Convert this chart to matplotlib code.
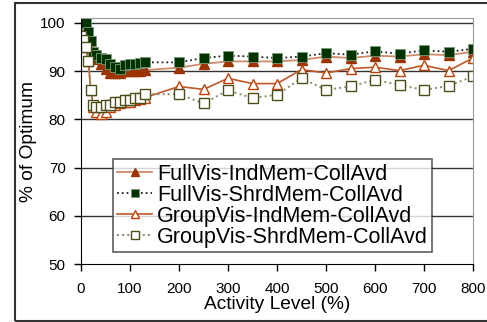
import numpy as np
import matplotlib
matplotlib.use('Agg')
from matplotlib import pyplot as plt
from matplotlib.patches import Rectangle

plt.rcParams['font.family'] = ['Liberation Sans', 'DejaVu Sans']

# activity level (%)
activity = [0, 5, 10, 15, 20, 25, 30, 40, 50, 60, 70, 80, 90, 100, 110, 120, 130,
            200, 250, 300, 350, 400, 450, 500, 550, 600, 650, 700, 750, 800]

full_ind = [100, 100, 99, 97, 95, 93, 92.5, 91.5, 90.5, 89.5, 89.5, 89.5, 90, 90, 90, 90, 90.2,
            90.7, 91.5, 92, 92, 92, 92.3, 93, 92.7, 93.2, 93, 93.5, 93.3, 94]
full_shrd = [100, 100, 100, 98, 96.3, 94, 93.4, 92.8, 92.4, 91.5, 90.8, 90.5, 91.3, 91.5, 91.5, 91.7, 91.8,
             91.8, 92.7, 93.2, 93.0, 92.7, 93.0, 93.7, 93.4, 94.1, 93.6, 94.3, 94.0, 94.6]
group_ind = [97, 96, 95, 92, 86, 82.6, 81.5, 81, 81.5, 82.5, 83, 83.3, 83.5, 83.5, 84, 84.2, 84.5,
             86.8, 86.2, 88.5, 87.4, 87.4, 90.3, 89.6, 90.5, 90.8, 90.1, 91.2, 90.1, 92.7]
group_shrd = [97.3, 96.5, 95, 92, 86, 83, 82.5, 82.5, 83, 83, 83.5, 83.5, 84, 84, 84.5, 84.5, 85.2,
              85.2, 83.3, 86.0, 84.4, 85.1, 88.5, 86.1, 86.8, 88.2, 87.1, 86.1, 86.9, 88.9]

labels = ['FullVis-IndMem-CollAvd', 'FullVis-ShrdMem-CollAvd',
          'GroupVis-IndMem-CollAvd', 'GroupVis-ShrdMem-CollAvd']

fig = plt.figure(figsize=(4.87, 3.22), dpi=100)
fig.patches.append(Rectangle((15/487, 1/322), 1.0, 318/322, transform=fig.transFigure,
                             fill=False, edgecolor='#333333', lw=1.5))
ax = fig.add_axes([81/487, 1 - 264/322, 392/487, 246/322])

brown = '#9c3300'
light = '#d08a6a'
green = '#003300'
olive = '#4d4d1a'

ax.plot(activity, full_ind, '-', color=light, lw=1.3, marker='^', ms=7,
        mfc=brown, mec=brown, label=labels[0])
ax.plot(activity, full_shrd, ':', color='#222222', lw=1.3, marker='s', ms=7,
        mfc=green, mec='#7a9a7a', mew=0.6, label=labels[1])
ax.plot(activity, group_ind, '-', color='#c0582a', lw=1.2, marker='^', ms=7.5,
        mfc='white', mec='#c0400a', mew=1.0, label=labels[2])
ax.plot(activity, group_shrd, ':', color='#8a8a6a', lw=1.4, marker='s', ms=7,
        mfc='white', mec=olive, mew=1.0, label=labels[3])

ax.set_xlim(0, 800)
ax.set_ylim(50, 101)
ax.set_xticks(np.arange(0, 801, 100))
ax.set_yticks(np.arange(50, 101, 10))
for y in [60, 70, 80, 90, 100]:
    ax.axhline(y, color='#333333', lw=1.0, zorder=0)

ax.spines['top'].set_color('#999999')
ax.spines['right'].set_color('#999999')
ax.spines['left'].set_color('black')
ax.spines['bottom'].set_color('black')
ax.tick_params(direction='out', length=5, width=1, labelsize=11, colors='black')
ax.tick_params(axis='x', pad=8)
ax.tick_params(axis='y', pad=6)

ax.set_xlabel('Activity Level (%)', fontsize=13.8, labelpad=0)
ax.set_ylabel('% of Optimum', fontsize=13.8, labelpad=2)

leg = ax.legend(loc='lower left', bbox_to_anchor=(32/392, 12/246), fontsize=15.5,
                frameon=True, fancybox=False, handlelength=1.6, handletextpad=0.25,
                borderpad=0.2, labelspacing=0.0, borderaxespad=0, markerscale=0.75)
leg.get_frame().set_edgecolor('#333333')
leg.get_frame().set_linewidth(1.2)

fig.savefig('out.png', dpi=100)
